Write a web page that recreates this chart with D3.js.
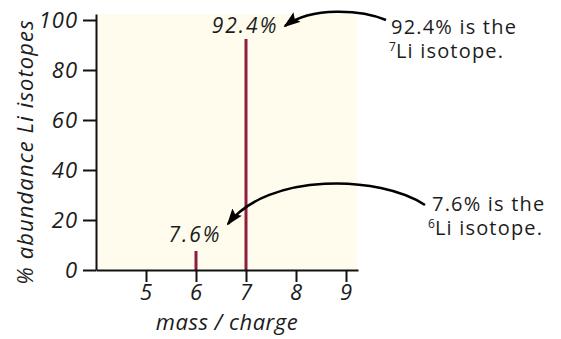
<!DOCTYPE html>
<html>
<head>
<meta charset="utf-8">
<script src="https://cdn.jsdelivr.net/npm/d3@7"></script>
<style>
  html, body { margin: 0; padding: 0; background: #ffffff; }
  svg { display: block; }
  text { font-family: "Open Sans", sans-serif; fill: #1c1c1c; font-weight: 400; }
</style>
</head>
<body>
<script>
// ---- data ----
const masses = [6, 7];
const abundances = [7.6, 92.4];
const barLabels = ["7.6%", "92.4%"];
const xTicks = [5, 6, 7, 8, 9];
const yTicks = [0, 20, 40, 60, 80, 100];
const notes = [
  { line1: "92.4% is the", sup: "7", line2: "Li isotope." },
  { line1: "7.6% is the", sup: "6", line2: "Li isotope." }
];

const W = 561, H = 339;
const svg = d3.select("body").append("svg").attr("width", W).attr("height", H);

const x = d3.scaleLinear().domain([4, 9.24]).range([96, 358]);
const y = d3.scaleLinear().domain([0, 102.4]).range([270, 14]);

// plot background
svg.append("rect")
  .attr("x", x(4)).attr("y", y(102.4))
  .attr("width", x(9.22) - x(4)).attr("height", y(0) - y(102.4))
  .attr("fill", "#fffcee");

// bars (stems)
svg.selectAll("line.bar").data(masses).join("line")
  .attr("class", "bar")
  .attr("x1", d => x(d)).attr("x2", d => x(d))
  .attr("y1", y(0)).attr("y2", (d, i) => y(abundances[i]))
  .attr("stroke", "#8e1c3c").attr("stroke-width", 3);

// bar labels
svg.selectAll("text.blab").data(masses).join("text")
  .attr("class", "blab")
  .attr("x", d => x(d) - 1)
  .attr("y", (d, i) => y(abundances[i]) - (i === 0 ? 9 : 6))
  .attr("text-anchor", "middle")
  .style("font-style", "italic").style("font-size", "21px").style("letter-spacing", "2px")
  .text((d, i) => barLabels[i]);

// axes
const yAxis = d3.axisLeft(y).tickValues(yTicks).tickFormat(d3.format("d"))
  .tickSize(13).tickSizeOuter(0).tickPadding(5);
const gy = svg.append("g").attr("transform", `translate(${x(4)},0)`).call(yAxis);
const xAxis = d3.axisBottom(x).tickValues(xTicks).tickFormat(d3.format("d"))
  .tickSize(12).tickSizeOuter(0).tickPadding(3);
const gx = svg.append("g").attr("transform", `translate(0,${y(0)})`).call(xAxis);

[gy, gx].forEach(g => {
  g.selectAll("path.domain").attr("stroke", "#111").attr("stroke-width", 2);
  g.selectAll(".tick line").attr("stroke", "#111").attr("stroke-width", 2);
  g.selectAll(".tick text")
    .attr("font-family", null).attr("font-size", null)
    .style("font-family", "'Open Sans', sans-serif")
    .style("font-style", "italic").style("font-size", "22px").style("letter-spacing", "1px")
    .attr("fill", "#1c1c1c");
});
gy.selectAll(".tick text").attr("dy", "0.36em");
gx.selectAll(".tick text").attr("dy", "0.7em");

// axis titles
svg.append("text")
  .attr("transform", "translate(33,152) rotate(-90)")
  .attr("text-anchor", "middle")
  .style("font-style", "italic").style("font-size", "22px").style("letter-spacing", "1.1px")
  .text("% abundance Li isotopes");

svg.append("text")
  .attr("x", 227).attr("y", 330)
  .attr("text-anchor", "middle")
  .style("font-style", "italic").style("font-size", "22px").style("letter-spacing", "0.5px")
  .text("mass / charge");

// arrow marker
const defs = svg.append("defs");
defs.append("marker")
  .attr("id", "ah").attr("markerUnits", "userSpaceOnUse")
  .attr("viewBox", "0 0 17 12").attr("refX", 15).attr("refY", 6)
  .attr("markerWidth", 17).attr("markerHeight", 12).attr("orient", "auto")
  .append("path").attr("d", "M0,0 L17,6 L0,12 L3,6 Z").attr("fill", "#000");

svg.append("path")
  .attr("d", "M386,20 C362,10 312,6 285,26")
  .attr("fill", "none").attr("stroke", "#000").attr("stroke-width", 2.5)
  .attr("marker-end", "url(#ah)");

svg.append("path")
  .attr("d", "M425,205 C380,175 268,172 228,224")
  .attr("fill", "none").attr("stroke", "#000").attr("stroke-width", 2.5)
  .attr("marker-end", "url(#ah)");

// annotation texts (two lines in one text element)
const notePos = [
  { x1: 391, y1: 34, x2: 389, y2: 58 },
  { x1: 432, y1: 211, x2: 428, y2: 235 }
];
notes.forEach((n, i) => {
  const p = notePos[i];
  const t = svg.append("text").attr("x", p.x1).attr("y", p.y1)
    .style("font-size", "20px").style("letter-spacing", "1.2px");
  t.append("tspan").attr("x", p.x1).attr("y", p.y1).text(n.line1);
  t.append("tspan").attr("x", p.x2).attr("y", p.y2 - 7)
    .style("font-size", "12px").style("letter-spacing", "0px").text(n.sup);
  t.append("tspan").attr("y", p.y2).text(n.line2);
});
</script>
</body>
</html>
